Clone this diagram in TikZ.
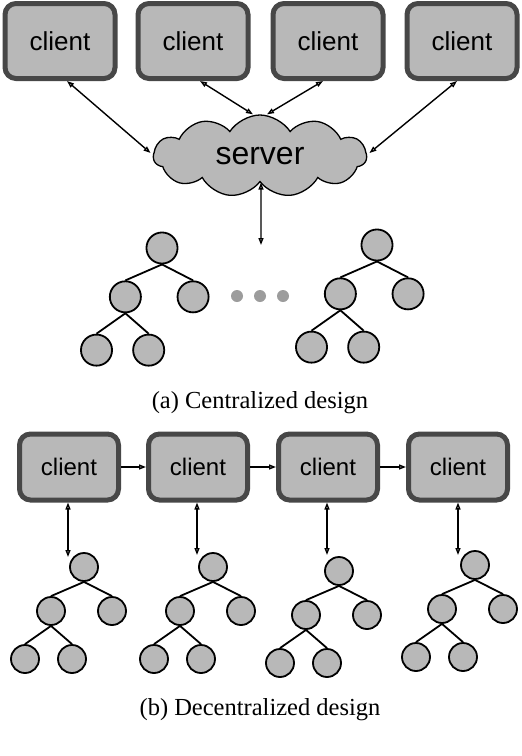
\documentclass[tikz,border=0pt]{standalone}
\usepackage{fontspec}
\setmainfont{Liberation Serif}
\setsansfont{Liberation Sans}
\usetikzlibrary{arrows.meta,shapes.symbols}
\definecolor{ink}{HTML}{000000}
\definecolor{boxfill}{HTML}{B8B8B8}
\definecolor{boxedge}{HTML}{474747}
\definecolor{dotgray}{HTML}{9C9C9C}
\tikzset{
  client/.style={draw=boxedge, fill=boxfill, line width=5pt, rounded corners=11pt, minimum width=110pt, minimum height=75pt, font=\sffamily\fontsize{26}{30}\selectfont},
  smallclient/.style={client, minimum width=99pt, minimum height=66pt, font=\sffamily\fontsize{24}{28}\selectfont},
  server/.style={cloud, cloud puffs=11, cloud puff arc=115, cloud ignores aspect, draw=ink, fill=boxfill, line width=1.3pt, minimum width=213pt, minimum height=82pt, inner sep=0pt, font=\sffamily\fontsize{32}{36}\selectfont},
  treenode/.style={circle, draw=ink, fill=boxfill, line width=1.8pt, inner sep=0pt},
  treeedge/.style={line width=1.8pt, draw=ink},
  moredot/.style={circle, fill=dotgray, inner sep=0pt, minimum size=12pt},
  biarrow/.style={{Triangle[open,length=7pt,width=5pt]}-{Triangle[open,length=7pt,width=5pt]}, line width=1.4pt, draw=ink},
  onearrow/.style={-{Triangle[open,length=7pt,width=5pt]}, line width=1.4pt, draw=ink},
  caption/.style={font=\fontsize{24.5}{28}\selectfont}
}

\begin{document}
\begin{tikzpicture}[x=1pt, y=-1pt]
  \useasboundingbox (0,0) rectangle (522,756);

  % centralized design
  \node[client] (ca1) at (60,41) {client};
  \node[client] (ca2) at (193,41) {client};
  \node[client] (ca3) at (328,41) {client};
  \node[client] (ca4) at (462,41) {client};
  \node[server] (srv) at (260,156) {server};
  \coordinate (srvdown) at (261,245);

  \draw[biarrow] ([xshift=7pt]ca1.south) -- ([xshift=-2pt,yshift=3pt]srv.west);
  \draw[biarrow] ([xshift=7pt]ca2.south) -- ([xshift=-7pt]srv.north);
  \draw[biarrow] ([xshift=-5pt]ca3.south) -- ([xshift=7pt]srv.north);
  \draw[biarrow] ([xshift=-5pt]ca4.south) -- ([xshift=2pt,yshift=3pt]srv.east);
  \draw[biarrow] ([xshift=1pt]srv.south) -- (srvdown);

  \node[moredot] (dot1) at (237,296) {};
  \node[moredot] (dot2) at (260,296) {};
  \node[moredot] (dot3) at (283,296) {};

  \node[caption] (capa) at (260,403) {(a) Centralized design};

  % decentralized design
  \node[smallclient] (cb1) at (69,467) {client};
  \node[smallclient] (cb2) at (198,467) {client};
  \node[smallclient] (cb3) at (328,467) {client};
  \node[smallclient] (cb4) at (458,467) {client};

  \draw[onearrow] (cb1) -- (cb2);
  \draw[onearrow] (cb2) -- (cb3);
  \draw[onearrow] (cb3) -- (cb4);

  \coordinate (tip1) at (68,557);
  \coordinate (tip2) at (197,555);
  \coordinate (tip3) at (327,555);
  \coordinate (tip4) at (458,555);
  \draw[biarrow] ([xshift=-1pt]cb1.south) -- (tip1);
  \draw[biarrow] ([xshift=-1pt]cb2.south) -- (tip2);
  \draw[biarrow] ([xshift=-1pt]cb3.south) -- (tip3);
  \draw[biarrow] (cb4.south) -- (tip4);

  \node[caption] (capb) at (260,710) {(b) Decentralized design};

  % trees
  \foreach \t/\x/\y/\s in {ta/162/248/1.11, tb/377/245/1.11, t1/84/567/1, t2/213/567/1, t3/339/571/1, t4/475/565/1}{
    \pgfmathsetmacro\d{28*\s}
    \node[treenode, minimum size=\d pt] (\t-r) at (\x,\y) {};
    \node[treenode, minimum size=\d pt] (\t-a) at ({\x-33*\s},{\y+44*\s}) {};
    \node[treenode, minimum size=\d pt] (\t-b) at ({\x+28*\s},{\y+44*\s}) {};
    \node[treenode, minimum size=\d pt] (\t-c) at ({\x-59*\s},{\y+92*\s}) {};
    \node[treenode, minimum size=\d pt] (\t-d) at ({\x-12*\s},{\y+92*\s}) {};
    \draw[treeedge] (\t-r.south) -- (\t-a.north);
    \draw[treeedge] (\t-r.south) -- (\t-b.north);
    \draw[treeedge] (\t-a.south) -- (\t-c.north);
    \draw[treeedge] (\t-a.south) -- (\t-d.north);
  }
\end{tikzpicture}
\end{document}
